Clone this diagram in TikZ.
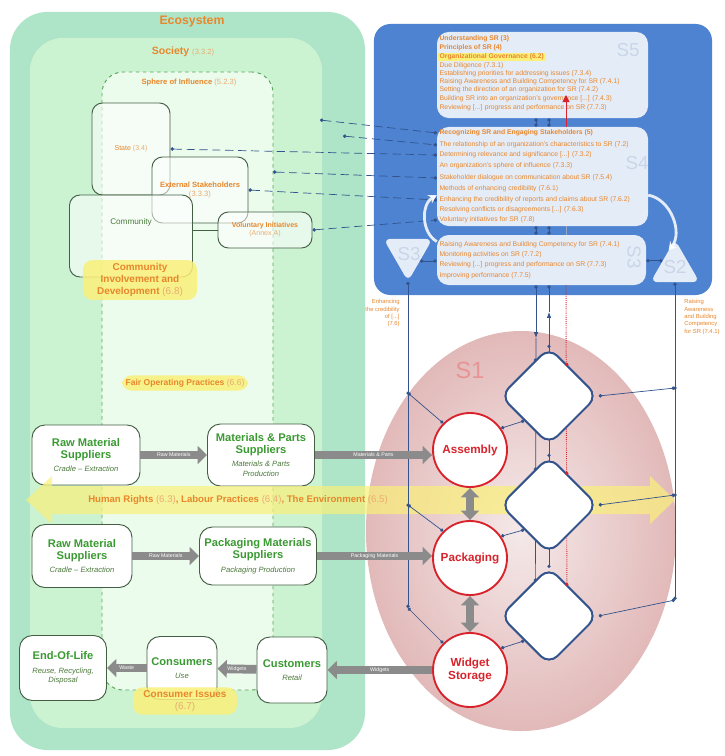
\documentclass[tikz,border=0pt]{standalone}
\usepackage{fontspec}
\setmainfont{Liberation Sans}
\usetikzlibrary{positioning,arrows.meta,shapes.geometric,calc}

\definecolor{ecogreen}{HTML}{AEE4C7}
\definecolor{socgreen}{HTML}{CBF3D2}
\definecolor{sphgreen}{HTML}{EBFBEC}
\definecolor{blobline}{HTML}{455F45}
\definecolor{orangetxt}{HTML}{E8872C}
\definecolor{numtxt}{HTML}{E9AC72}
\definecolor{chaingreen}{HTML}{3A9A32}
\definecolor{subgreen}{HTML}{4B7A3B}
\definecolor{vsmblue}{HTML}{4D83D1}
\definecolor{linkblue}{HTML}{33538C}
\definecolor{opred}{HTML}{D8232C}
\definecolor{flowgray}{HTML}{8B8B8B}
\definecolor{hiyellow}{HTML}{FAF07A}
\definecolor{sfaint}{HTML}{C9D5E8}
\definecolor{sonepink}{HTML}{E2B9B9}
\definecolor{sonelight}{HTML}{F5E9E9}

\begin{document}
\begin{tikzpicture}[x=0.03cm,y=-0.03cm,
    region/.style={rectangle,rounded corners=32pt,inner sep=0pt},
    blob/.style={rectangle,rounded corners=9pt,draw=blobline,thick,
        fill=white,fill opacity=0.55,text opacity=1,align=center},
    chain/.style={rectangle,rounded corners=11pt,draw=blobline,thick,
        fill=white,align=center,text=chaingreen,
        font=\fontsize{9.5}{10.5}\selectfont\bfseries},
    hilite/.style={rectangle,rounded corners=8pt,fill=hiyellow,fill opacity=0.85,
        text opacity=1,align=center,text=orangetxt,inner sep=3pt},
    op/.style={circle,draw=opred,line width=1.6pt,fill=white,minimum size=2.22cm,
        align=center,text=opred,font=\fontsize{10}{11}\selectfont\bfseries},
    unit/.style={rectangle,rotate=45,rounded corners=10pt,draw=linkblue,
        line width=1.6pt,fill=white,minimum size=2.05cm},
    sbox/.style={rectangle,rounded corners=10pt,fill=white,fill opacity=0.85},
    tri/.style={regular polygon,regular polygon sides=3,fill=white,fill opacity=0.85,
        rounded corners=6pt,minimum size=1.7cm,inner sep=0pt},
    item/.style={anchor=west,inner xsep=2pt,inner ysep=0.5pt,text=orangetxt,
        font=\fontsize{5.8}{6.5}\selectfont},
    itemb/.style={item,font=\fontsize{5.8}{6.5}\selectfont\bfseries},
    sname/.style={text=sfaint,inner sep=0pt,font=\fontsize{16}{16}\selectfont},
    flow/.style={draw=flowgray,line width=7.5pt,-{Triangle[length=8pt,width=15pt]}},
    flowtxt/.style={text=white,font=\fontsize{4.5}{5}\selectfont},
    wire/.style={draw=linkblue,line width=0.6pt},
    link/.style={wire,{Circle[length=3pt]}-{Circle[length=3pt]}},
    dlink/.style={link,dash pattern=on 7pt off 4pt},
    homeo/.style={draw=white,line width=2.4pt,opacity=0.85,
        -{Stealth[length=7pt,width=8pt]}}
    ]
    \fill[white] (0,0) rectangle (724,756);
    \useasboundingbox (0,0) rectangle (724,756);

    % Place regions
    \node [region,fill=ecogreen,minimum width=10.65cm,minimum height=22.14cm] (ecosystem) at (187.5,381) {};
    \node [region,fill=socgreen,rounded corners=28pt,minimum width=8.76cm,minimum height=20.7cm] (society) at (176,383) {};
    \node [region,fill=sphgreen,draw=gray!70!green,dashed,thick,rounded corners=18pt,
        minimum width=5.13cm,minimum height=18.54cm] (sphere) at (187.5,381) {};

    \node [text=orangetxt,font=\fontsize{10.5}{12}\selectfont\bfseries] (eco_lbl) at (192,22) {Ecosystem};
    \node [text=orangetxt,font=\fontsize{9}{11}\selectfont\bfseries] (soc_lbl) at (183,52)
        {Society \textcolor{numtxt}{\mdseries\fontsize{6.5}{8}\selectfont(3.3.2)}};
    \node [text=orangetxt,font=\fontsize{6.5}{8}\selectfont\bfseries] (sph_lbl) at (189,83)
        {Sphere of Influence \textcolor{numtxt}{\mdseries(5.2.3)}};

    % Stakeholder blobs
    \node [blob,minimum width=2.34cm,minimum height=2.76cm,text=orangetxt,
        font=\fontsize{6}{7}\selectfont] (state) at (131,149) {State \textcolor{numtxt}{(3.4)}};
    \node [blob,minimum width=2.88cm,minimum height=1.98cm,text=orangetxt,
        font=\fontsize{6.5}{7.5}\selectfont\bfseries] (extst) at (200,190)
        {External Stakeholders\\\textcolor{numtxt}{\mdseries(3.3.3)}};
    \node [blob,minimum width=3.69cm,minimum height=2.46cm] (community) at (131,236) {};
    \node [text=subgreen,font=\fontsize{7}{8}\selectfont,below=0.6cm of community.north] (comm_lbl) {Community};
    \node [blob,minimum width=2.82cm,minimum height=1.08cm,text=orangetxt,
        font=\fontsize{6}{7}\selectfont\bfseries] (volinit) at (265,230)
        {Voluntary Initiatives\\\textcolor{numtxt}{\mdseries(Annex A)}};
    \draw [blobline,thick] (community.east |- volinit.west) -- (volinit.west);

    \node [hilite,font=\fontsize{8.5}{10}\selectfont\bfseries,minimum width=3.42cm] (cid) at (140,280)
        {Community\\Involvement and\\Development \textcolor{numtxt}{\mdseries(6.8)}};
    \node [hilite,font=\fontsize{7.3}{9}\selectfont\bfseries] (fop) at (185,383)
        {Fair Operating Practices \textcolor{numtxt}{\mdseries(6.6)}};

    % Supply chain
    \node [chain,minimum width=3.24cm,minimum height=1.8cm] (raw_a) at (86,455)
        {Raw Material\\Suppliers\\[1pt]{\mdseries\itshape\color{subgreen}\fontsize{6.5}{7.5}\selectfont Cradle -- Extraction}};
    \node [chain,minimum width=3.21cm,minimum height=1.86cm] (mat_sup) at (261,455)
        {Materials \& Parts\\Suppliers\\[1pt]{\mdseries\itshape\color{subgreen}\fontsize{6.5}{7.5}\selectfont Materials \& Parts}\\[-2pt]{\mdseries\itshape\color{subgreen}\fontsize{6.5}{7.5}\selectfont Production}};
    \node [chain,minimum width=3cm,minimum height=1.89cm] (raw_b) at (82,556)
        {Raw Material\\Suppliers\\[1pt]{\mdseries\itshape\color{subgreen}\fontsize{6.5}{7.5}\selectfont Cradle -- Extraction}};
    \node [chain,minimum width=3.51cm,minimum height=1.74cm] (pack_sup) at (258,556)
        {Packaging Materials\\Suppliers\\[1pt]{\mdseries\itshape\color{subgreen}\fontsize{6.5}{7.5}\selectfont Packaging Production}};
    \node [chain,minimum width=2.61cm,minimum height=1.95cm] (eol) at (63,668)
        {End-Of-Life\\[1pt]{\mdseries\itshape\color{subgreen}\fontsize{6.5}{7.5}\selectfont Reuse, Recycling,}\\[-2pt]{\mdseries\itshape\color{subgreen}\fontsize{6.5}{7.5}\selectfont Disposal}};
    \node [chain,minimum width=2.1cm,minimum height=1.89cm] (consumers) at (182,668)
        {Consumers\\[1pt]{\mdseries\itshape\color{subgreen}\fontsize{6.5}{7.5}\selectfont Use}};
    \node [chain,minimum width=2.1cm,minimum height=1.98cm] (customers) at (292,670)
        {Customers\\[1pt]{\mdseries\itshape\color{subgreen}\fontsize{6.5}{7.5}\selectfont Retail}};
    \node [hilite,font=\fontsize{8.5}{9.5}\selectfont\bfseries,minimum width=3.12cm] (cons_iss) at (185,701)
        {Consumer Issues\\\textcolor{numtxt}{\mdseries(6.7)}};

    % S1 operations
    \shade [inner color=sonelight,outer color=sonepink] (521,531) ellipse [x radius=4.65cm,y radius=6cm];
    \node [text=sonepink!80!red,font=\fontsize{20}{20}\selectfont] (s1_lbl) at (470,370) {S1};

    % Core subjects band
    \fill [hiyellow,fill opacity=0.7] (26,500) -- (52,476) -- (52,486) -- (650,486) -- (650,476)
        -- (675,500) -- (650,524) -- (650,514) -- (52,514) -- (52,524) -- cycle;
    \node [text=orangetxt,font=\fontsize{8.2}{10}\selectfont\bfseries] (hr_lbl) at (238,500)
        {Human Rights \textcolor{numtxt}{\mdseries(6.3)}, Labour Practices \textcolor{numtxt}{\mdseries(6.4)}, The Environment \textcolor{numtxt}{\mdseries(6.5)}};

    % Metasystem
    \node [rectangle,rounded corners=14pt,fill=vsmblue,minimum width=10.14cm,minimum height=8.13cm] (vsm) at (543,159.5) {};
    \node [sbox,minimum width=6.33cm,minimum height=2.58cm] (s5) at (542.5,75) {};
    \node [sbox,minimum width=6.33cm,minimum height=2.97cm] (s4) at (542.5,176.5) {};
    \node [sbox,minimum width=6.27cm,minimum height=1.5cm] (s3) at (541.5,260) {};
    \node [tri,shape border rotate=180] (s3star) at (408,253) {};
    \node [tri] (s2) at (675,268) {};

    \node [sname] (s5_lbl) at (628,50) {S5};
    \node [sname] (s4_lbl) at (637,163) {S4};
    \node [sname,rotate=-90] (s3_lbl) at (634,257) {S3};
    \node [sname] (s3star_lbl) at (409,254) {S3};
    \node [sname] (s2_lbl) at (675,267) {S2};

    \node [itemb] (s5_und) at (437,39) {Understanding SR (3)};
    \node [itemb] (s5_pri) at (437,48) {Principles of SR (4)};
    \node [itemb,fill=hiyellow] (s5_gov) at (437,57) {Organizational Governance (6.2)};
    \node [item] (s5_due) at (437,66) {Due Diligence (7.3.1)};
    \node [item] (s5_est) at (437,74) {Establishing priorities for addressing issues (7.3.4)};
    \node [item] (s5_rai) at (437,82) {Raising Awareness and Building Competency for SR (7.4.1)};
    \node [item] (s5_set) at (437,90) {Setting the direction of an organization for SR (7.4.2)};
    \node [item] (s5_bui) at (437,99) {Building SR into an organization's governance [...] (7.4.3)};
    \node [item] (s5_rev) at (437,108) {Reviewing [...] progress and performance on SR (7.7.3)};

    \node [itemb] (s4_rec) at (437,133) {Recognizing SR and Engaging Stakeholders (5)};
    \node [item] (s4_rel) at (437,145) {The relationship of an organization's characteristics to SR (7.2)};
    \node [item] (s4_det) at (437,155) {Determining relevance and significance [...] (7.3.2)};
    \node [item] (s4_sph) at (437,166) {An organization's sphere of influence (7.3.3)};
    \node [item] (s4_dia) at (437,178) {Stakeholder dialogue on communication about SR (7.5.4)};
    \node [item] (s4_met) at (437,189) {Methods of enhancing credibility (7.6.1)};
    \node [item] (s4_enh) at (437,200) {Enhancing the credibility of reports and claims about SR (7.6.2)};
    \node [item] (s4_res) at (437,210) {Resolving conflicts or disagreements [...] (7.6.3)};
    \node [item] (s4_vol) at (437,220) {Voluntary initiatives for SR (7.8)};

    \node [item] (s3_rai) at (437,245) {Raising Awareness and Building Competency for SR (7.4.1)};
    \node [item] (s3_mon) at (437,255) {Monitoring activities on SR (7.7.2)};
    \node [item] (s3_rev) at (437,265) {Reviewing [...] progress and performance on SR (7.7.3)};
    \node [item] (s3_imp) at (437,276) {Improving performance (7.7.5)};

    \node [anchor=north east,align=right,text=orangetxt,font=\fontsize{5}{6.3}\selectfont,inner sep=1pt]
        (s3star_txt) at (401,298) {Enhancing\\the credibility\\of [...]\\(7.6)};
    \node [anchor=north west,align=left,text=orangetxt,font=\fontsize{5}{6.3}\selectfont,inner sep=1pt]
        (s2_txt) at (683,298) {Raising\\Awareness\\and Building\\Competency\\for SR (7.4.1)};

    % Draw edges
    \coordinate (soc_pt) at (320,120);
    \coordinate (eco_pt) at (343,136);
    \coordinate (sph_pt) at (273,172);
    \draw [dlink] (soc_pt) -- (s4_rec.west);
    \draw [dlink] (eco_pt) -- (s4_rel.west);
    \draw [dlink] (state.east) -- (s4_det.west);
    \draw [dlink] (sph_pt) -- (s4_dia.west);
    \draw [dlink] (extst.east) -- (s4_enh.west);
    \draw [dlink] (volinit.east) -- (s4_vol.west);

    \draw [homeo] (s3.170) to[bend left=60] (s4.190);
    \draw [homeo] (s4.-10) to[bend left=60] (s2.110);

    \coordinate (ch_a) at (536,0);
    \coordinate (ch_b) at (549,0);
    \coordinate (alg_top) at (566,95);
    \draw [link] (s5.south -| ch_a) -- (s4.north -| ch_a);
    \draw [link] (s5.south -| ch_b) -- (s4.north -| ch_b);
    \draw [link] (s4.south -| ch_a) -- (s3.north -| ch_a);
    \draw [link] (s4.south -| ch_b) -- (s3.north -| ch_b);
    \draw [wire,draw=linkblue!50] (s4.south -| alg_top) -- (s3.north -| alg_top);
    \draw [opred,line width=0.8pt,-{Triangle[length=6pt,width=6pt]}] (s4.north -| alg_top) -- (alg_top);

    \draw [link] (s3star.-34) -- (s3.west |- s3star.-34);
    \draw [link] (s3.east |- s2.150) -- (s2.150);

    % S3 to S1 channels
    \node [unit] (d1) at (549,396) {};
    \node [unit] (d2) at (549,505) {};
    \node [unit] (d3) at (549,616) {};
    \coordinate (dn_arr) at (536,338);
    \coordinate (up_arr) at (549,312);
    \draw [wire,{Circle[length=3pt]}-{Latex[length=5pt]}] (s3.south -| dn_arr) -- (dn_arr);
    \draw [wire] (dn_arr) -- ($(d3.north)!0.45!(d3.north east)$);
    \draw [wire,-{Latex[length=5pt]}] (d1.north east) -- (up_arr);
    \draw [wire,-{Circle[length=3pt]}] (up_arr) -- (s3.south -| up_arr);
    \draw [wire] (d1.north east) -- (d3.north east);
    \draw [opred,line width=0.8pt,densely dotted] (s3.south -| alg_top) -- ($(d3.north east)!0.72!(d3.east)$);
    \node [unit] (d1) at (549,396) {};
    \node [unit] (d2) at (549,505) {};
    \node [unit] (d3) at (549,616) {};

    \node [op] (assembly) at (470,450) {Assembly};
    \node [op] (packaging) at (470,558) {Packaging};
    \node [op] (storage) at (470,670) {Widget\\Storage};

    \coordinate (lb1) at (408,393);
    \coordinate (lb2) at (408,505);
    \coordinate (lb3) at (408,608);
    \coordinate (rb1) at (675,388);
    \coordinate (rb2) at (675,495);
    \coordinate (rb3) at (675,600);
    \draw [link] (s3star.-90) -- (lb3);
    \draw [link] (s2.-90) -- (rb3);
    \fill [linkblue] (lb1) circle (1.5pt) (lb2) circle (1.5pt) (rb1) circle (1.5pt) (rb2) circle (1.5pt);
    \draw [link] (lb1) -- (assembly.135);
    \draw [link] (lb2) -- (packaging.135);
    \draw [link] (lb3) -- (storage.135);
    \draw [link] (assembly.35) -- (d1.west);
    \draw [link] (packaging.35) -- (d2.west);
    \draw [link] (storage.35) -- (d3.west);
    \draw [link] (d1.south east) -- (rb1);
    \draw [link] (d2.south east) -- (rb2);
    \draw [link] (d3.south east) -- (rb3);

    \fill [linkblue] (d1.north east) circle (1.5pt) (d2.north east) circle (1.5pt) (d3.north east) circle (1.5pt);
    \fill [linkblue] ($(d1.north)!0.45!(d1.north east)$) circle (1.5pt)
        ($(d2.north)!0.45!(d2.north east)$) circle (1.5pt)
        ($(d3.north)!0.45!(d3.north east)$) circle (1.5pt);
    \fill [opred] ($(d1.north east)!0.72!(d1.east)$) circle (1.5pt)
        ($(d2.north east)!0.72!(d2.east)$) circle (1.5pt)
        ($(d3.north east)!0.72!(d3.east)$) circle (1.5pt);

    % Material flows
    \draw [flow] (raw_a) -- node[flowtxt] {Raw Materials} (mat_sup);
    \draw [flow] (mat_sup.east) -- node[flowtxt] {Materials \& Parts} (mat_sup.east -| assembly.west);
    \draw [flow] (raw_b) -- node[flowtxt] {Raw Materials} (pack_sup);
    \draw [flow] (pack_sup.east) -- node[flowtxt] {Packaging Materials} (pack_sup.east -| packaging.west);
    \draw [flow] (storage) -- node[flowtxt] {Widgets} (customers);
    \draw [flow] (customers) -- node[flowtxt] {Widgets} (consumers);
    \draw [flow] (consumers) -- node[flowtxt] {Waste} (eol);
    \draw [flow,{Triangle[length=8pt,width=15pt]}-{Triangle[length=8pt,width=15pt]}] (assembly) -- (packaging);
    \draw [flow,{Triangle[length=8pt,width=15pt]}-{Triangle[length=8pt,width=15pt]}] (packaging) -- (storage);
\end{tikzpicture}
\end{document}
